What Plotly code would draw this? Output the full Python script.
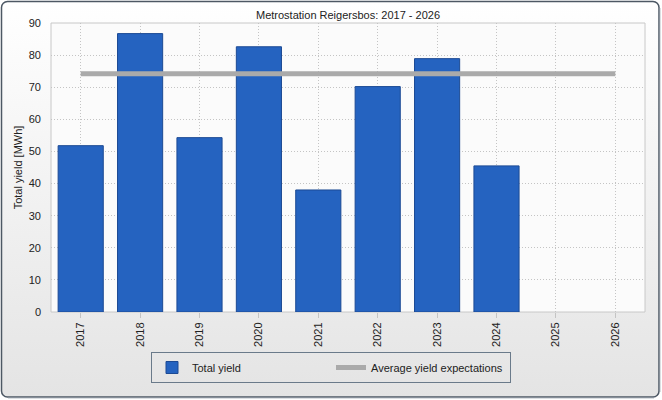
import base64
import plotly.graph_objects as go

years = ["2017", "2018", "2019", "2020", "2021", "2022", "2023", "2024", "2025", "2026"]
total_yield = [51.8, 86.7, 54.3, 82.6, 38.0, 70.2, 78.9, 45.5, None, None]
avg_expect = [74.2, 74.2, 74.2, 74.2, 74.2, 74.2, 74.2, 74.2, 74.2, 74.2]

W, H = 662, 400
L, R, T, B = 51, 17, 23, 88
PW, PH = W - L - R, H - T - B

svg = f'''<svg xmlns="http://www.w3.org/2000/svg" width="{W}" height="{H}" viewBox="0 0 {W} {H}">
<defs><linearGradient id="g" x1="0" y1="0" x2="0" y2="1">
<stop offset="0" stop-color="#ffffff"/><stop offset="1" stop-color="#e4e4e4"/></linearGradient></defs>
<rect x="1.5" y="1.5" width="{W-4.5}" height="{H-4.5}" rx="6" ry="6" fill="url(#g)" stroke="#4d5864" stroke-width="1.5"/>
<path d="M {W-2.2} 8 L {W-2.2} {H-8} M 8 {H-2.2} L {W-8} {H-2.2}" stroke="#8a949e" stroke-width="1"/>
</svg>'''
src = "data:image/svg+xml;base64," + base64.b64encode(svg.encode()).decode()

FONT = "Liberation Sans"

fig = go.Figure()
fig.add_trace(go.Bar(
    x=years, y=total_yield, name="Total yield",
    marker=dict(color="#2563c0", line=dict(color="#1c4a94", width=1)),
    width=0.76,
))
fig.add_trace(go.Scatter(
    x=years, y=avg_expect, name="Average yield expectations",
    mode="lines", line=dict(color="#aaaaaa", width=5),
))

fig.update_layout(
    width=W, height=H,
    margin=dict(l=L, r=R, t=T, b=B, autoexpand=False),
    paper_bgcolor="rgba(0,0,0,0)",
    plot_bgcolor="rgba(0,0,0,0)",
    font=dict(family=FONT, size=11, color="#222222"),
    title=dict(text="Metrostation Reigersbos: 2017 - 2026", x=(L + PW / 2) / W, xanchor="center",
               y=1 - 15 / H, yanchor="middle", font=dict(size=11, color="#222222")),
    images=[dict(source=src, xref="paper", yref="paper",
                 x=-L / PW, y=1 + T / PH, sizex=W / PW, sizey=H / PH,
                 xanchor="left", yanchor="top", sizing="stretch", layer="below")],
    shapes=[dict(type="rect", xref="paper", yref="paper", x0=0, x1=1, y0=0, y1=1,
                 fillcolor="#fbfbfb", line=dict(color="#c8c8c8", width=1), layer="below")],
    showlegend=True,
    legend=dict(orientation="h", x=(331 - L) / PW, xanchor="center",
                y=-40 / PH, yanchor="top",
                bordercolor="#6a7a8a", borderwidth=1, bgcolor="rgba(0,0,0,0)",
                entrywidth=134, font=dict(size=11, color="#222222"),
                traceorder="normal"),
)
fig.update_xaxes(
    type="category", range=[-0.5, 9.5], tickangle=-90,
    showgrid=True, gridcolor="#c4c4c4", griddash="1px,2px", gridwidth=1,
    ticks="outside", ticklen=5, tickcolor="#c4c4c4",
    showline=False, tickfont=dict(size=11),
)
fig.update_yaxes(
    range=[0, 90], dtick=10, title=dict(text="Total yield [MWh]", standoff=3, font=dict(size=11)),
    showgrid=True, gridcolor="#c4c4c4", griddash="1px,2px", gridwidth=1,
    ticks="", showline=False, zeroline=False, tickfont=dict(size=11),
    ticklabelstandoff=9,
)
fig.write_html("out.html", config={"displayModeBar": False},
               post_script="document.body.style.margin='0';")
